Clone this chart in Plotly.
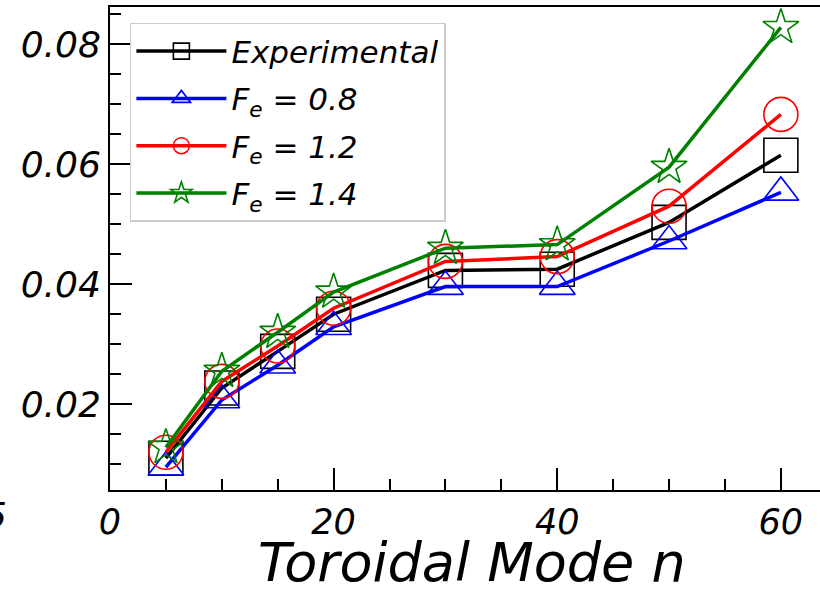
import plotly.graph_objects as go

modes = [5, 10, 15, 20, 30, 40, 50, 60]
experimental = [0.0110, 0.0227, 0.0288, 0.0350, 0.0423, 0.0425, 0.0503, 0.0615]
fe_08 = [0.0095, 0.0207, 0.0265, 0.0329, 0.0396, 0.0396, 0.0472, 0.0553]
fe_12 = [0.0120, 0.0238, 0.0297, 0.0360, 0.0438, 0.0446, 0.0530, 0.0683]
fe_14 = [0.0128, 0.0255, 0.0320, 0.0387, 0.0460, 0.0466, 0.0595, 0.0828]

names = ["Experimental", "<i>F<sub>e</sub></i> = 0.8", "<i>F<sub>e</sub></i> = 1.2", "<i>F<sub>e</sub></i> = 1.4"]
series = [experimental, fe_08, fe_12, fe_14]
colors = ["black", "#0000ff", "#ff0000", "#008000"]
symbols = ["square-open", "triangle-up-open", "circle-open", "star-open"]
sizes = [34, 31, 34, 27]
x_title = "Toroidal Mode n"

FONT = "DejaVu Sans"

fig = go.Figure()
for i, (nm, ys, c, s, sz) in enumerate(zip(names, series, colors, symbols, sizes)):
    fig.add_trace(go.Scatter(
        x=modes, y=ys, name=nm, mode="lines+markers",
        line=dict(color=c, width=3.5),
        marker=dict(symbol=s, size=sz, color=c, line=dict(width=1.6, color=c)),
        legendgroup=str(i),
    ))

fig.update_layout(
    width=820, height=592,
    margin=dict(l=110, r=0, t=7, b=102),
    paper_bgcolor="white", plot_bgcolor="white",
    showlegend=True,
    legend=dict(
        x=0.028, y=0.967, xanchor="left", yanchor="top",
        bgcolor="rgba(255,255,255,0.9)", bordercolor="#cccccc", borderwidth=1.5,
        font=dict(family=FONT, size=31, color="black", style="italic"),
        tracegroupgap=4, itemwidth=90,
    ),
    font=dict(family=FONT, color="black", style="italic"),
)

fig.update_xaxes(
    range=[0, 63.5], showgrid=False, zeroline=False,
    showline=True, linecolor="black", linewidth=2, mirror=True,
    ticks="inside", ticklen=22, tickwidth=1.5, tickcolor="black",
    tick0=0, dtick=20,
    tickfont=dict(family=FONT, size=35, color="black", style="italic"),
    minor=dict(dtick=5, ticks="inside", ticklen=11, tickwidth=1.5, tickcolor="black"),
)
fig.update_yaxes(
    range=[0.0057, 0.0862], showgrid=False, zeroline=False,
    showline=True, linecolor="black", linewidth=2, mirror=False,
    ticks="inside", ticklen=22, tickwidth=1.5, tickcolor="black",
    tick0=0, dtick=0.02, tickformat=".2f",
    tickfont=dict(family=FONT, size=36, color="black", style="italic"),
    minor=dict(dtick=0.005, ticks="inside", ticklen=11, tickwidth=1.5, tickcolor="black"),
)

fig.add_annotation(
    text=x_title, xref="paper", yref="paper", x=0.51, y=-0.151,
    xanchor="center", yanchor="middle", showarrow=False,
    font=dict(family=FONT, size=54, color="black", style="italic"),
)
fig.add_annotation(
    text="5", xref="paper", yref="paper", x=-0.1423, y=-0.052,
    xanchor="right", yanchor="middle", showarrow=False,
    font=dict(family=FONT, size=36, color="black", style="italic"),
)

fig.write_html("out.html")
